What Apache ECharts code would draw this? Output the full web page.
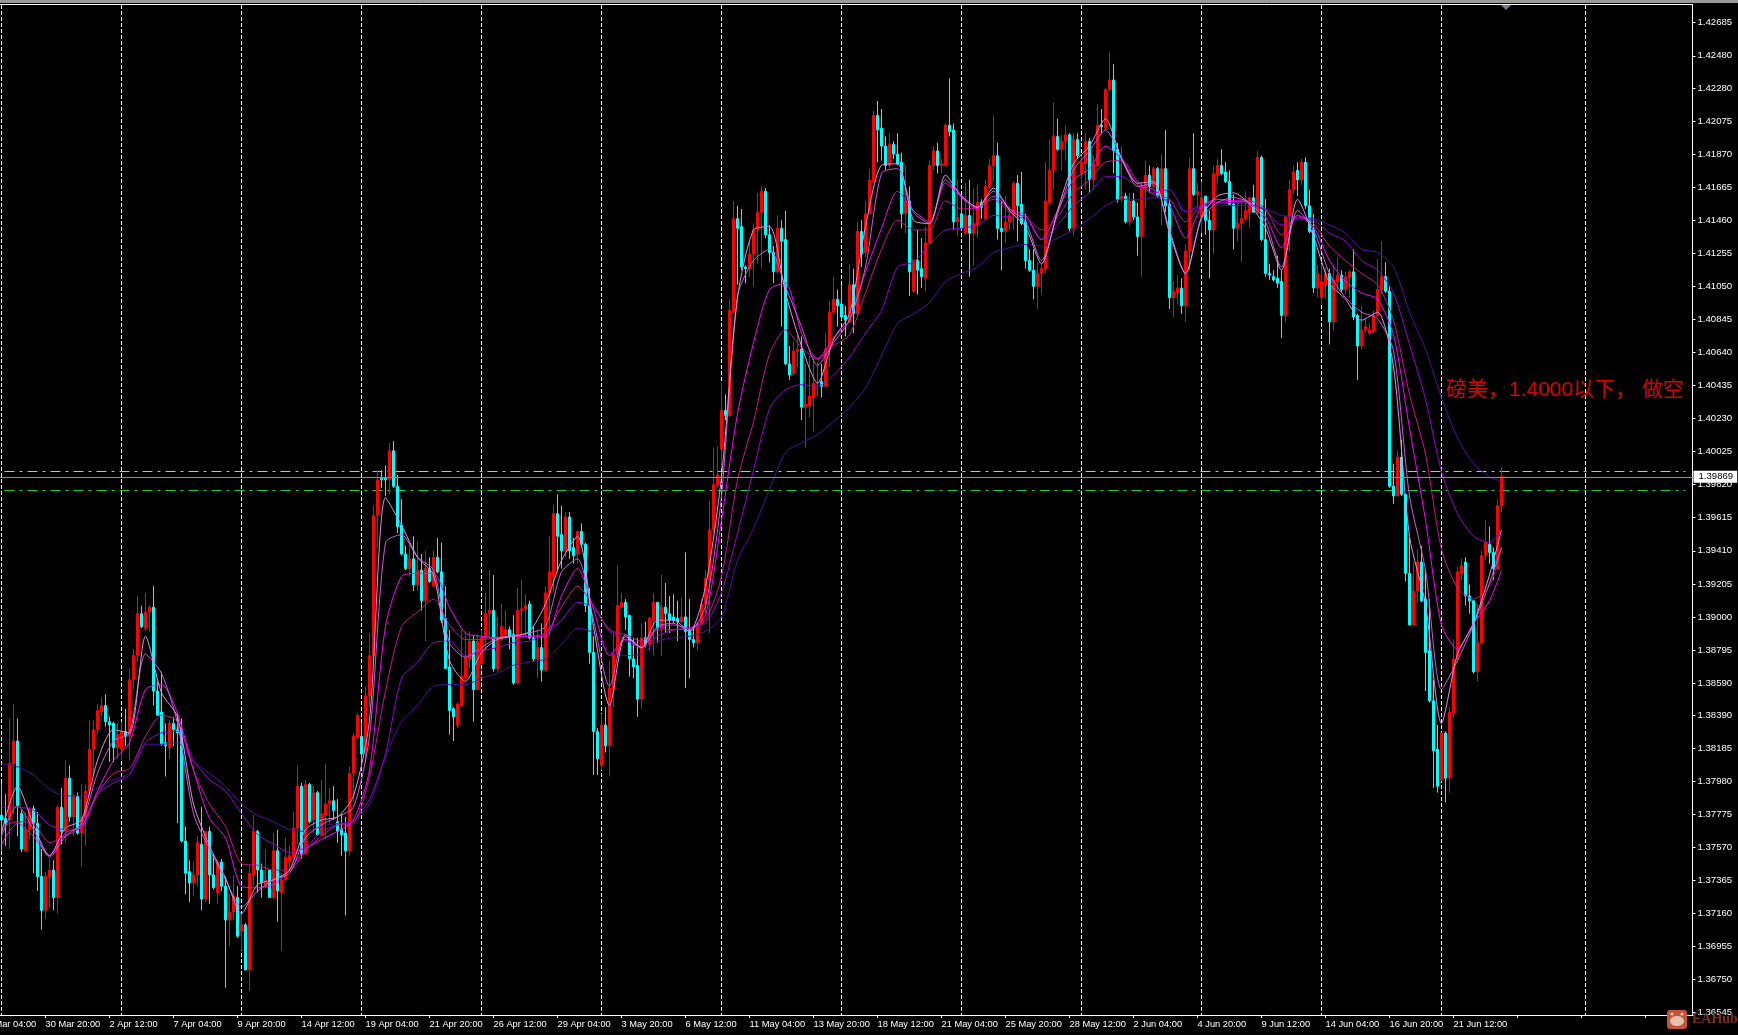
<!DOCTYPE html>
<html><head><meta charset="utf-8">
<style>html,body{margin:0;padding:0;background:#000}#c{width:1738px;height:1035px}</style>
<script src="https://cdn.jsdelivr.net/npm/echarts@6/dist/echarts.min.js"></script></head>
<body><div id="c"></div>
<script>
// Prices are in units of 0.0001
const opens=[13777,13775,13774,13809,13823,13778,13755,13768,13781,13772,
13739,13718,13739,13743,13726,13782,13767,13800,13776,13789,
13766,13776,13792,13818,13830,13841,13845,13835,13834,13819,
13818,13829,13826,13861,13876,13902,13893,13903,13906,13854,
13841,13822,13819,13834,13830,13830,13761,13742,13735,13740,
13759,13725,13767,13740,13729,13748,13733,13712,13717,13726,
13705,13709,13681,13740,13767,13743,13733,13743,13726,13755,
13729,13737,13748,13751,13769,13795,13753,13796,13774,13791,
13765,13777,13784,13786,13773,13768,13766,13755,13803,13825,
13826,13815,13851,13876,13963,13986,13986,13985,14003,13981,
13957,13939,13930,13936,13920,13929,13910,13930,13919,13937,
13928,13899,13869,13843,13833,13845,13862,13874,13885,13855,
13871,13887,13902,13904,13868,13886,13889,13892,13889,13859,
13904,13905,13908,13887,13874,13881,13867,13915,13925,13964,
13951,13941,13962,13943,13939,13953,13945,13907,13878,13829,
13808,13833,13820,13855,13877,13906,13909,13901,13874,13870,
13849,13887,13883,13898,13909,13893,13906,13902,13900,13899,
13897,13900,13892,13886,13884,13896,13908,13923,13954,13982,
14004,14028,14025,14089,14147,14142,14117,14116,14125,14140,
14151,14164,14137,14126,14114,14141,14134,14057,14051,14065,
14066,14030,14031,14036,14045,14046,14043,14066,14089,14097,
14094,14087,14083,14106,14088,14139,14126,14150,14170,14211,
14203,14192,14180,14193,14187,14182,14150,14158,14102,14121,
14116,14110,14132,14180,14189,14180,14180,14205,14202,14145,
14150,14138,14149,14138,14143,14157,14147,14167,14180,14186,
14141,14139,14145,14149,14169,14156,14145,14121,14115,14105,
14113,14116,14157,14177,14198,14190,14195,14199,14141,14196,
14175,14181,14195,14171,14180,14205,14203,14227,14233,14190,
14159,14161,14145,14158,14148,14136,14166,14174,14167,14178,
14161,14178,14156,14098,14101,14104,14093,14127,14178,14162,
14148,14161,14146,14140,14174,14180,14176,14170,14156,14141,
14144,14147,14151,14160,14151,14185,14134,14113,14111,14110,
14108,14087,14148,14165,14177,14171,14182,14155,14140,14104,
14098,14106,14113,14083,14108,14112,14103,14111,14114,14087,
14068,14078,14076,14077,14087,14103,14111,14102,13981,13975,
13999,13976,13927,13895,13916,13934,13911,13879,13848,13818,
13799,13828,13800,13840,13874,13927,13934,13913,13910,13866,
13884,13938,13945,13940,13930,13969];
const closes=[13774,13772,13809,13823,13783,13756,13768,13781,13772,13739,
13718,13739,13743,13726,13782,13767,13800,13776,13789,13766,
13776,13792,13818,13830,13842,13845,13835,13833,13819,13827,
13829,13826,13861,13876,13902,13894,13903,13906,13854,13839,
13821,13820,13834,13830,13828,13761,13741,13735,13740,13760,
13725,13767,13740,13732,13748,13733,13712,13717,13727,13702,
13709,13681,13741,13767,13743,13735,13737,13726,13755,13730,
13737,13751,13752,13769,13795,13753,13796,13773,13791,13765,
13778,13784,13786,13780,13767,13765,13755,13803,13826,13839,
13815,13851,13876,13963,13985,13985,13985,14003,13981,13956,
13939,13930,13936,13920,13929,13910,13930,13922,13937,13928,
13898,13868,13842,13838,13846,13863,13875,13885,13855,13885,
13887,13902,13904,13868,13887,13894,13892,13888,13859,13904,
13905,13907,13887,13874,13881,13867,13915,13928,13964,13950,
13941,13962,13941,13938,13953,13945,13907,13878,13829,13812,
13833,13820,13856,13877,13907,13909,13900,13874,13869,13849,
13887,13883,13899,13909,13893,13906,13902,13898,13898,13897,
13900,13891,13886,13884,13896,13908,13924,13954,13982,13988,
14028,14025,14090,14147,14141,14117,14116,14125,14140,14151,
14164,14137,14126,14114,14141,14133,14057,14050,14065,14066,
14030,14032,14037,14045,14045,14043,14066,14089,14097,14093,
14086,14084,14106,14088,14139,14125,14150,14171,14211,14202,
14192,14180,14193,14187,14181,14150,14158,14114,14121,14115,
14111,14132,14180,14189,14180,14181,14205,14201,14145,14148,
14141,14149,14138,14144,14157,14154,14167,14180,14186,14141,
14139,14145,14149,14169,14155,14144,14121,14115,14105,14113,
14116,14158,14177,14198,14190,14195,14199,14141,14196,14186,
14182,14195,14171,14181,14205,14204,14227,14233,14189,14159,
14161,14145,14158,14148,14136,14166,14174,14167,14178,14161,
14178,14155,14098,14102,14104,14093,14127,14178,14162,14164,
14160,14146,14140,14175,14180,14175,14170,14156,14141,14144,
14147,14152,14160,14151,14185,14134,14113,14112,14109,14107,
14087,14148,14165,14176,14171,14182,14155,14139,14104,14113,
14108,14113,14083,14109,14112,14103,14111,14114,14086,14068,
14078,14080,14078,14087,14103,14111,14102,13981,13975,13999,
13976,13927,13895,13916,13934,13910,13878,13848,13817,13795,
13828,13800,13841,13874,13928,13932,13913,13910,13866,13884,
13938,13946,13940,13930,13969,13987];
const lows=[13755,13758,13756,13778,13764,13754,13754,13762,13741,13730,
13706,13713,13720,13718,13716,13759,13760,13773,13764,13765,
13745,13758,13789,13802,13827,13838,13832,13810,13810,13812,
13811,13820,13811,13855,13872,13893,13891,13891,13845,13839,
13820,13801,13812,13820,13772,13760,13728,13723,13727,13733,
13718,13723,13722,13731,13722,13730,13670,13696,13712,13701,
13693,13681,13668,13733,13729,13726,13732,13726,13725,13711,
13693,13736,13744,13750,13759,13750,13753,13772,13766,13764,
13764,13762,13772,13774,13760,13752,13715,13752,13785,13824,
13808,13809,13844,13873,13943,13980,13975,13976,13980,13952,
13938,13929,13925,13916,13916,13904,13885,13921,13919,13927,
13896,13868,13827,13823,13831,13844,13862,13868,13835,13855,
13870,13879,13887,13866,13866,13885,13886,13880,13858,13858,
13889,13888,13886,13872,13862,13860,13866,13888,13915,13928,
13930,13937,13936,13933,13933,13943,13903,13871,13802,13802,
13805,13816,13801,13844,13876,13905,13892,13863,13862,13838,
13843,13881,13879,13876,13884,13876,13890,13890,13896,13885,
13896,13856,13862,13881,13879,13895,13902,13890,13952,13980,
13992,14022,14024,14088,14106,14115,14107,14111,14105,14119,
14116,14135,14120,14107,14113,14080,14056,14047,14050,14055,
14022,14005,14024,14015,14037,14036,14043,14055,14088,14080,
14084,14074,14082,14076,14087,14117,14123,14150,14169,14182,
14183,14177,14178,14184,14180,14141,14138,14099,14101,14100,
14104,14102,14131,14177,14175,14175,14179,14198,14140,14136,
14140,14137,14111,14118,14135,14147,14146,14165,14170,14134,
14115,14132,14140,14140,14133,14143,14116,14114,14097,14091,
14100,14113,14155,14165,14189,14177,14183,14139,14136,14184,
14167,14165,14163,14165,14179,14200,14202,14226,14175,14157,
14157,14144,14143,14146,14124,14111,14154,14163,14166,14160,
14143,14151,14091,14086,14094,14088,14083,14115,14161,14154,
14138,14137,14110,14125,14169,14174,14169,14155,14128,14133,
14120,14146,14141,14151,14150,14133,14111,14109,14108,14104,
14073,14083,14126,14162,14161,14168,14153,14138,14101,14098,
14094,14097,14069,14078,14102,14101,14100,14098,14084,14047,
14066,14076,14075,14076,14086,14100,14101,13980,13970,13975,
13975,13922,13895,13895,13909,13909,13854,13847,13794,13791,
13798,13785,13791,13837,13872,13923,13907,13902,13865,13860,
13883,13935,13933,13923,13929,13965];
const highs=[13797,13790,13837,13846,13837,13780,13779,13782,13783,13779,
13756,13742,13750,13749,13783,13794,13811,13808,13790,13791,
13796,13796,13836,13836,13846,13850,13852,13838,13835,13834,
13835,13843,13868,13880,13913,13907,13915,13907,13919,13860,
13866,13834,13836,13838,13840,13837,13770,13749,13748,13764,
13782,13767,13770,13753,13749,13750,13739,13728,13740,13733,
13716,13710,13746,13777,13768,13747,13756,13743,13766,13768,
13741,13763,13758,13779,13808,13797,13799,13797,13795,13792,
13799,13809,13794,13795,13787,13778,13776,13807,13828,13840,
13834,13857,13890,13969,13991,13991,13994,14008,14009,13988,
13973,13944,13945,13950,13947,13939,13941,13937,13941,13949,
13946,13919,13892,13844,13847,13892,13891,13891,13888,13889,
13892,13915,13929,13926,13900,13908,13904,13894,13901,13918,
13923,13914,13910,13894,13892,13896,13919,13950,13969,13976,
13969,13965,13965,13949,13953,13958,13946,13918,13888,13831,
13840,13844,13873,13891,13932,13915,13911,13901,13887,13887,
13896,13897,13900,13915,13909,13926,13921,13913,13914,13910,
13912,13940,13911,13894,13897,13911,13929,13972,14005,14006,
14045,14038,14097,14158,14155,14153,14118,14133,14144,14163,
14167,14166,14143,14130,14149,14146,14152,14068,14071,14075,
14074,14057,14062,14061,14058,14057,14076,14096,14111,14103,
14106,14093,14119,14116,14145,14146,14158,14178,14214,14220,
14215,14198,14200,14195,14200,14188,14180,14167,14121,14140,
14135,14142,14183,14192,14194,14184,14206,14234,14206,14171,
14161,14169,14171,14166,14168,14159,14171,14184,14211,14194,
14158,14161,14155,14170,14174,14176,14150,14128,14128,14120,
14119,14182,14196,14219,14209,14199,14205,14200,14200,14200,
14186,14200,14197,14186,14218,14215,14228,14250,14243,14194,
14192,14163,14163,14163,14157,14169,14183,14180,14179,14179,
14187,14202,14159,14108,14112,14110,14131,14185,14200,14169,
14170,14161,14152,14180,14184,14190,14182,14177,14162,14157,
14159,14164,14160,14168,14189,14186,14159,14119,14115,14124,
14115,14149,14171,14180,14182,14184,14185,14165,14150,14118,
14119,14117,14116,14118,14123,14115,14114,14115,14128,14088,
14093,14085,14082,14090,14122,14133,14120,14105,13995,14003,
14010,13976,13949,13934,13942,13944,13929,13911,13861,13833,
13828,13829,13844,13886,13931,13936,13937,13920,13910,13908,
13941,13960,13956,13943,13973,13993];

// Moving averages read every 4th bar (plus the last bar), same units
const ma1=[13766,13795,13771,13752,13769,13774,13811,13830,13828,13888,13853,13838,13784,13758,13738,13716,13734,13737,13743,13768,13774,13776,13789,13836,
13974,13957,13937,13926,13873,13860,13878,13886,13888,13891,13908,13935,13950,13894,13845,13888,13881,13898,13898,13891,13919,13987,
14098,14140,14142,14101,14068,14045,14072,14088,14142,14180,14181,14146,14144,14174,14161,14154,14166,14152,14142,14119,14152,14181,
14192,14209,14184,14169,14170,14138,14113,14148,14161,14163,14156,14141,14115,14159,14136,14107,14097,14084,14089,14055,
13950,13908,13834,13877,13896,13926,13954];
const ma2=[13764,13783,13768,13751,13764,13772,13803,13823,13828,13877,13865,13834,13778,13756,13737,13720,13730,13737,13741,13763,13771,13776,13782,13826,
13946,13951,13937,13929,13884,13875,13881,13887,13888,13890,13894,13928,13936,13898,13857,13889,13881,13894,13896,13891,13907,13975,
14099,14121,14128,14105,14080,14056,14070,14084,14117,14175,14178,14151,14144,14171,14161,14154,14164,14153,14145,14121,14150,14177,
14189,14202,14185,14167,14169,14140,14113,14147,14157,14160,14157,14145,14117,14152,14140,14113,14098,14089,14085,14065,
13975,13929,13855,13873,13895,13921,13943];
const ma3=[13759,13772,13764,13752,13766,13770,13792,13811,13822,13855,13858,13840,13805,13775,13763,13733,13732,13734,13743,13756,13762,13767,13774,13805,
13894,13925,13927,13927,13906,13890,13888,13887,13888,13888,13888,13913,13930,13905,13876,13886,13881,13893,13895,13893,13901,13960,
14026,14070,14103,14107,14076,14060,14073,14084,14114,14141,14164,14152,14145,14169,14160,14153,14161,14153,14149,14134,14152,14171,
14178,14192,14184,14168,14165,14155,14135,14154,14159,14158,14157,14148,14129,14149,14142,14121,14108,14101,14097,14075,
14017,13960,13895,13880,13896,13910,13929];
const ma4=[13770,13773,13772,13760,13764,13770,13790,13803,13806,13826,13839,13835,13805,13784,13770,13747,13746,13743,13743,13755,13764,13771,13772,13801,
13854,13894,13903,13911,13895,13886,13886,13887,13888,13888,13890,13906,13919,13907,13892,13889,13885,13892,13892,13893,13898,13925,
13985,14021,14063,14078,14067,14060,14068,14075,14101,14128,14146,14140,14140,14158,14153,14154,14159,14151,14148,14140,14148,14163,
14171,14182,14183,14170,14162,14159,14145,14155,14159,14158,14158,14153,14137,14149,14144,14130,14121,14113,14106,14084,
14038,14001,13942,13918,13911,13919,13943];
const ma5=[13782,13782,13780,13771,13768,13769,13790,13797,13802,13822,13828,13829,13811,13799,13792,13778,13765,13759,13754,13757,13767,13771,13774,13787,
13815,13862,13872,13884,13885,13876,13879,13881,13884,13885,13890,13898,13909,13906,13891,13886,13881,13888,13892,13893,13896,13915,
13952,13991,14029,14041,14044,14043,14050,14061,14076,14090,14117,14120,14131,14140,14141,14143,14149,14148,14147,14134,14143,14155,
14163,14173,14173,14167,14163,14165,14151,14155,14157,14157,14156,14152,14143,14147,14146,14138,14133,14121,14115,14101,
14069,14035,13990,13964,13950,13946,13954];
const ma6=[13809,13807,13802,13793,13789,13789,13794,13799,13803,13821,13821,13822,13810,13803,13795,13784,13777,13773,13768,13767,13770,13772,13773,13784,
13813,13835,13845,13857,13858,13858,13862,13865,13870,13872,13874,13883,13893,13890,13878,13876,13877,13885,13887,13888,13891,13900,
13935,13955,13979,14002,14008,14013,14021,14030,14042,14062,14082,14088,14095,14108,14113,14117,14126,14129,14131,14130,14135,14140,
14147,14155,14159,14159,14160,14158,14152,14155,14155,14155,14155,14153,14149,14148,14147,14143,14138,14128,14126,14117,
14089,14066,14036,14011,13995,13987,13984];

const timeLabels=['27 Mar 04:00','30 Mar 20:00','2 Apr 12:00','7 Apr 04:00','9 Apr 20:00','14 Apr 12:00','19 Apr 04:00','21 Apr 20:00','26 Apr 12:00','29 Apr 04:00','3 May 20:00','6 May 12:00','11 May 04:00','13 May 20:00','18 May 12:00','21 May 04:00','25 May 20:00','28 May 12:00','2 Jun 04:00','4 Jun 20:00','9 Jun 12:00','14 Jun 04:00','16 Jun 20:00','21 Jun 12:00'];
const priceLabels=[1.36545,1.36750,1.36955,1.37160,1.37365,1.37570,1.37775,1.37980,1.38185,1.38390,1.38590,1.38795,1.39000,1.39205,1.39410,1.39615,1.39820,1.40025,1.40230,1.40435,1.40640,1.40845,1.41050,1.41255,1.41460,1.41665,1.41870,1.42075,1.42280,1.42480,1.42685];
const gridBars=[0,30,60,90,120,150,180,210,240,270,300,330,360,396];
const lastPrice=1.39869, khakiLevel=1.39901, greenLevel=1.39785;
const note='磅美，1.4000以下， 做空';
const maColors=['#e58ee5','#c95fd4','#ff00ff','#c7158f','#9400d3','#520c9c'];

const leadIn=5, labelStep=16, slotCount=429;
const categories=Array.from({length:slotCount},(_,i)=>i%labelStep===0?(timeLabels[i/labelStep]||''):'');
const candles=opens.map((o,i)=>[i+leadIn,o/1e4,closes[i]/1e4,lows[i]/1e4,highs[i]/1e4]);
const maSlots=ma1.map((_,j)=>Math.min(j*4,opens.length-1)+leadIn);
const maSeries=[ma1,ma2,ma3,ma4,ma5,ma6].map((vals,n)=>({
  type:'line',name:'MA'+(n+1),data:vals.map((v,j)=>[maSlots[j],v/1e4]),
  showSymbol:false,smooth:0.25,clip:false,silent:true,z:3+(6-n)*0.01,
  lineStyle:{color:maColors[n],width:1}
}));
const hLine=(v,color,type,endSlot)=>[{coord:[0,v],lineStyle:{color,type,width:1}},{coord:[endSlot,v]}];

const chart=echarts.init(document.getElementById('c'),null,{renderer:'canvas'});
chart.setOption({
  animation:false,backgroundColor:'#000',
  grid:{left:-18.5,top:5,width:1712,height:1010,containLabel:false,outerBoundsMode:'none'},
  xAxis:{type:'category',data:categories,boundaryGap:false,
    axisLine:{show:true,onZero:false,lineStyle:{color:'#fff',width:1}},
    axisTick:{show:true,length:3,interval:i=>i%labelStep===0,lineStyle:{color:'#fff'}},
    axisLabel:{show:true,interval:i=>i%labelStep===0,align:'left',margin:5,color:'#fff',fontSize:9.3,fontFamily:'Liberation Sans',hideOverlap:false},
    splitLine:{show:true,interval:i=>gridBars.includes(i-leadIn),lineStyle:{color:'#fff',type:[4,2],width:1}}
  },
  yAxis:{type:'value',position:'right',offset:-1,min:1.36531,max:1.42795,scale:true,
    axisLine:{show:true,onZero:false,lineStyle:{color:'#fff',width:1}},
    axisTick:{show:true,length:3,customValues:priceLabels,lineStyle:{color:'#fff'}},
    axisLabel:{show:true,customValues:priceLabels,margin:5,color:'#fff',fontSize:9.6,fontFamily:'Liberation Sans',formatter:v=>v.toFixed(5)},
    splitLine:{show:false}
  },
  series:[
    {type:'candlestick',name:'GBPUSD',data:candles,encode:{x:0,y:[1,2,3,4]},clip:false,barWidth:3,silent:true,z:2,
      itemStyle:{color:'#ff0000',color0:'#00ffff',borderColor:'#ff0000',borderColor0:'#00ffff',borderWidth:1},
      markLine:{silent:true,symbol:'none',animation:false,z:1,label:{show:false},
        data:[hLine(khakiLevel,'#c8c488',[10,5,3,5],426),hLine(greenLevel,'#22d022',[10,5,3,5],426)]}
    },
    ...maSeries,
    {type:'line',name:'last',data:[],silent:true,z:6,
      markLine:{silent:true,symbol:'none',animation:false,z:20,
        lineStyle:{color:'#8090a0',type:'solid',width:1},
        label:{show:true,position:'end',distance:0,formatter:lastPrice.toFixed(5),backgroundColor:'#fff',color:'#000',fontSize:9.6,fontFamily:'Liberation Sans',padding:[1,4,1,5],borderWidth:0},
        data:[[{coord:[0,lastPrice]},{coord:[slotCount-1,lastPrice]}]]}
    }
  ],
  graphic:[
    {type:'rect',silent:true,z:50,shape:{x:0,y:0,width:1738,height:3},style:{fill:'#9a9a9a'}},
    {type:'line',silent:true,z:50,shape:{x1:0,y1:4.5,x2:1693,y2:4.5},style:{stroke:'#fff',lineWidth:1}},
    {type:'polygon',silent:true,z:50,shape:{points:[[1501,5],[1511,5],[1506,10]]},style:{fill:'#6f8090'}},
    {type:'text',silent:true,z:50,left:1446,top:380,style:{text:note,fill:'#e00000',font:'21px "Liberation Sans","Noto Sans CJK SC"'}},
    {type:'rect',silent:true,z:50,shape:{x:1667,y:1010,width:20,height:19,r:3},style:{fill:'#c4553a'}},
    {type:'ellipse',silent:true,z:51,shape:{cx:1677,cy:1021,rx:7,ry:5},style:{fill:'#e6c0b0'}},
    {type:'circle',silent:true,z:51,shape:{cx:1672,cy:1014,r:1.6},style:{fill:'#e6c0b0'}},
    {type:'circle',silent:true,z:51,shape:{cx:1682,cy:1014,r:1.6},style:{fill:'#e6c0b0'}},
    {type:'text',silent:true,z:50,left:1692,top:1012,style:{text:'EAHub',fill:'#7c2c1a',font:'bold 14px "Liberation Serif"'}}
  ]
});
</script></body></html>
